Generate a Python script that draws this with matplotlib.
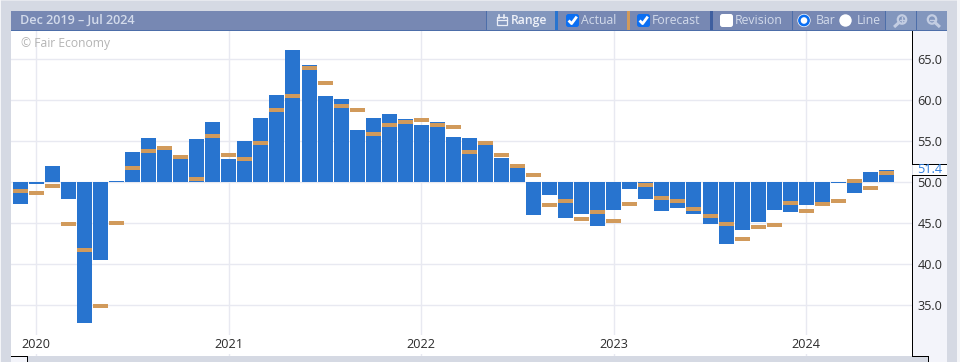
import matplotlib
matplotlib.use("Agg")
import matplotlib.pyplot as plt
from matplotlib.patches import Rectangle, Circle, FancyBboxPatch

months = ["Dec 2019"] + [f"{m} {y}" for y in (2020, 2021, 2022, 2023) for m in
          "Jan Feb Mar Apr May Jun Jul Aug Sep Oct Nov Dec".split()] + \
         [f"{m} 2024" for m in "Jan Feb Mar Apr May Jun".split()]

actual = [47.35, 49.8, 51.95, 47.95, 32.85, 40.5, 50.1, 53.65, 55.4, 53.9, 52.8, 55.25, 57.3,
          52.9, 55.0, 57.9, 60.7, 66.1, 64.25, 60.5, 60.1, 56.35, 57.8, 58.3, 57.7,
          56.95, 57.3, 55.5, 55.4, 54.5, 53.0, 51.7, 45.98, 48.4, 45.7, 46.1, 44.65,
          46.6, 49.15, 47.95, 46.45, 46.85, 46.1, 44.9, 42.45, 44.15, 45.1, 46.6, 46.35,
          47.2, 47.1, 49.9, 48.65, 51.3, 51.45]
forecast = [48.9, 48.65, 49.5, 44.9, 41.8, 34.9, 45.0, 51.8, 53.8, 54.15, 53.05, 50.4, 55.7,
            53.3, 52.9, 54.75, 58.8, 60.5, 63.9, 62.05, 59.3, 58.8, 55.85, 56.95, 57.3,
            57.55, 56.95, 56.8, 53.65, 54.75, 53.3, 51.95, 50.85, 47.2, 47.7, 45.5, 46.35,
            45.25, 47.3, 49.65, 48.05, 47.7, 46.7, 45.85, 44.9, 43.05, 44.5, 44.75, 47.45,
            46.45, 47.3, 47.7, 50.1, 49.3, 51.1]
year_ticks = [1, 13, 25, 37, 49]
year_labels = ["2020", "2021", "2022", "2023", "2024"]
y_ticks = [35, 40, 45, 50, 55, 60, 65]
base = 50
header_title = "Dec 2019 – Jul 2024"
latest_label = "51.4"

W, H = 960, 362
BG = "#d5d9e3"; HEAD = "#7788b3"; BTN = "#8296bd"; TXT = "#d3dbeb"
BLUE = "#2874cf"; TAN = "#d19a5b"; GRID = "#e8e9f1"; PANEL = "#f3f4fa"
FONT = "Open Sans"
plt.rcParams["font.family"] = [FONT, "DejaVu Sans"]

fig = plt.figure(figsize=(W / 100, H / 100), dpi=100, facecolor=BG)

# --- chrome in pixel coordinates
bg = fig.add_axes([0, 0, 1, 1], zorder=0)
bg.set_xlim(0, W); bg.set_ylim(H, 0); bg.axis("off")

def rect(x0, y0, x1, y1, c, **kw):
    bg.add_patch(Rectangle((x0, y0), x1 - x0, y1 - y0, fc=c, ec="none", lw=0, **kw))

rect(0, 0, W, 1, "#e6e8ee")
rect(0, 0, 1, H, "#f4f5f8")
rect(957, 0, W, H, "#f4f5f8")
# header
rect(11, 11, 947, 30, HEAD)
rect(11, 30, 947, 31, "#4d6ea9")
rect(487, 11, 555, 30, BTN)
rect(486, 11, 487, 30, "#4d6ea9")
rect(555, 11, 558, 30, BLUE)
rect(627, 11, 630, 30, TAN)
rect(710, 11, 713, 30, "#3f5f9f")
rect(792, 11, 793, 30, "#4d6ea9")
rect(885, 11, 886, 30, "#4d6ea9")
rect(886, 11, 916, 30, BTN)
rect(916, 11, 917, 30, "#4d6ea9")
rect(917, 11, 947, 30, BTN)
# scale panel
rect(913, 31, 947, H, PANEL)
rect(912, 31, 913, 164, "black")
rect(912, 164, 947, 165, "black")
rect(913, 165, 947, 175, "white")
rect(912, 175, 947, 176, "black")
rect(912, 176, 913, 357, "black")
# bottom strip
rect(11, 356, 27, H, PANEL)
rect(11, 356, 27, 357, "black")
rect(27, 356, 28, H, "black")
rect(28, 356, 912, H, BG)
rect(912, 356, 928, H, BG)
rect(912, 356, 928, 357, "black")
rect(928, 356, 929, H, "black")

def label(x, s, color=TXT, weight="normal", size=8.8):
    bg.text(x, 20.5, s, color=color, fontsize=size, va="center", ha="left", weight=weight)

def checkbox(x, checked):
    bg.add_patch(FancyBboxPatch((x + 2, 16), 9, 9, boxstyle="round,pad=2,rounding_size=2.5",
                                fc="#0b6ff2" if checked else "white", ec="none"))
    if checked:
        bg.plot([x + 2.6, x + 5.6, x + 10.8], [20.5, 23.6, 16.6], color="white", lw=2,
                solid_capstyle="butt")

def radio(x, checked):
    if checked:
        bg.add_patch(Circle((x, 20.5), 6.6, fc="white", ec="none"))
        bg.add_patch(Circle((x, 20.5), 5.9, fc="#0b6ff2", ec="none"))
        bg.add_patch(Circle((x, 20.5), 3.3, fc="white", ec="none"))
    else:
        bg.add_patch(Circle((x, 20.5), 6.2, fc="white", ec="none"))

def magnifier(x, plus):
    c = "#c3cde2"
    bg.add_patch(Circle((x, 19.5), 4.2, fc="none", ec=c, lw=1.6))
    sign = -1 if plus else 1
    bg.plot([x + sign * 3.2, x + sign * 6.8], [22.7, 26], color=c, lw=2.2)
    bg.plot([x - 2.2, x + 2.2], [19.5, 19.5], color=c, lw=1)
    if plus:
        bg.plot([x, x], [17.3, 21.7], color=c, lw=1)

bg.text(20, 20.5, header_title, color=TXT, fontsize=9.1, va="center", ha="left", weight="semibold")
# range icon
ic = "#e9edf6"
bg.add_patch(Rectangle((496.5, 17), 10, 7.5, fc="none", ec=ic, lw=0.9))
bg.plot([496.5, 506.5], [20, 20], color=ic, lw=0.9)
bg.plot([499, 499], [15, 17.5], color=ic, lw=1.2)
bg.plot([504, 504], [15, 17.5], color=ic, lw=1.2)
label(511, "Range", color="#eef1f8", weight="semibold")
checkbox(566, True);  label(581, "Actual")
checkbox(637, True);  label(652, "Forecast")
checkbox(720, False); label(735, "Revision")
radio(804, True);     label(816, "Bar")
radio(845.5, False);  label(857, "Line")
magnifier(902, True)
magnifier(932, False)
bg.text(942, 169.5, latest_label, color="#2f7fe0", fontsize=9.1, va="center", ha="right")

# --- data axes
ax = fig.add_axes([11 / W, 1 - 356 / H, 901 / W, 325 / H], zorder=1)
px = 16.04
x = list(range(len(actual)))
ax.set_xlim((11 - 20.3) / px, (912 - 20.3) / px)
ax.set_ylim(50 - (356 - 182.3) / 8.2, 50 + (182.3 - 31) / 8.2)
ax.set_facecolor("white")
for s in ax.spines.values():
    s.set_visible(False)
ax.set_axisbelow(True)
ax.grid(True, color=GRID, lw=1)

bar_w = 15 / px
ax.bar(x, [a - base for a in actual], bottom=base, width=bar_w, color=BLUE, lw=0, zorder=2)
ax.hlines(forecast, [i - bar_w / 2 for i in x], [i + bar_w / 2 for i in x],
          colors=TAN, lw=4 * 0.72, zorder=3, capstyle="butt")

ax.set_xticks(year_ticks, year_labels)
ax.set_yticks(y_ticks, [f"{v:.1f}" for v in y_ticks])
ax.yaxis.tick_right()
ax.tick_params(axis="y", length=0, pad=4, labelsize=9.1, labelcolor="#2b2b2b")
ax.tick_params(axis="x", length=0, pad=-13, labelsize=9.1, labelcolor="#2b2b2b")
for t in ax.get_xticklabels():
    t.set_bbox(dict(fc="white", ec="none", pad=2.5))
for t in ax.get_yticklabels():
    t.set_clip_on(False)

fig.text(21 / W, 1 - 44 / H, "© Fair Economy", color="#b4b4b4", fontsize=8.7, va="center", ha="left",
         zorder=5)

fig.savefig("out.png", dpi=100, facecolor=BG)
